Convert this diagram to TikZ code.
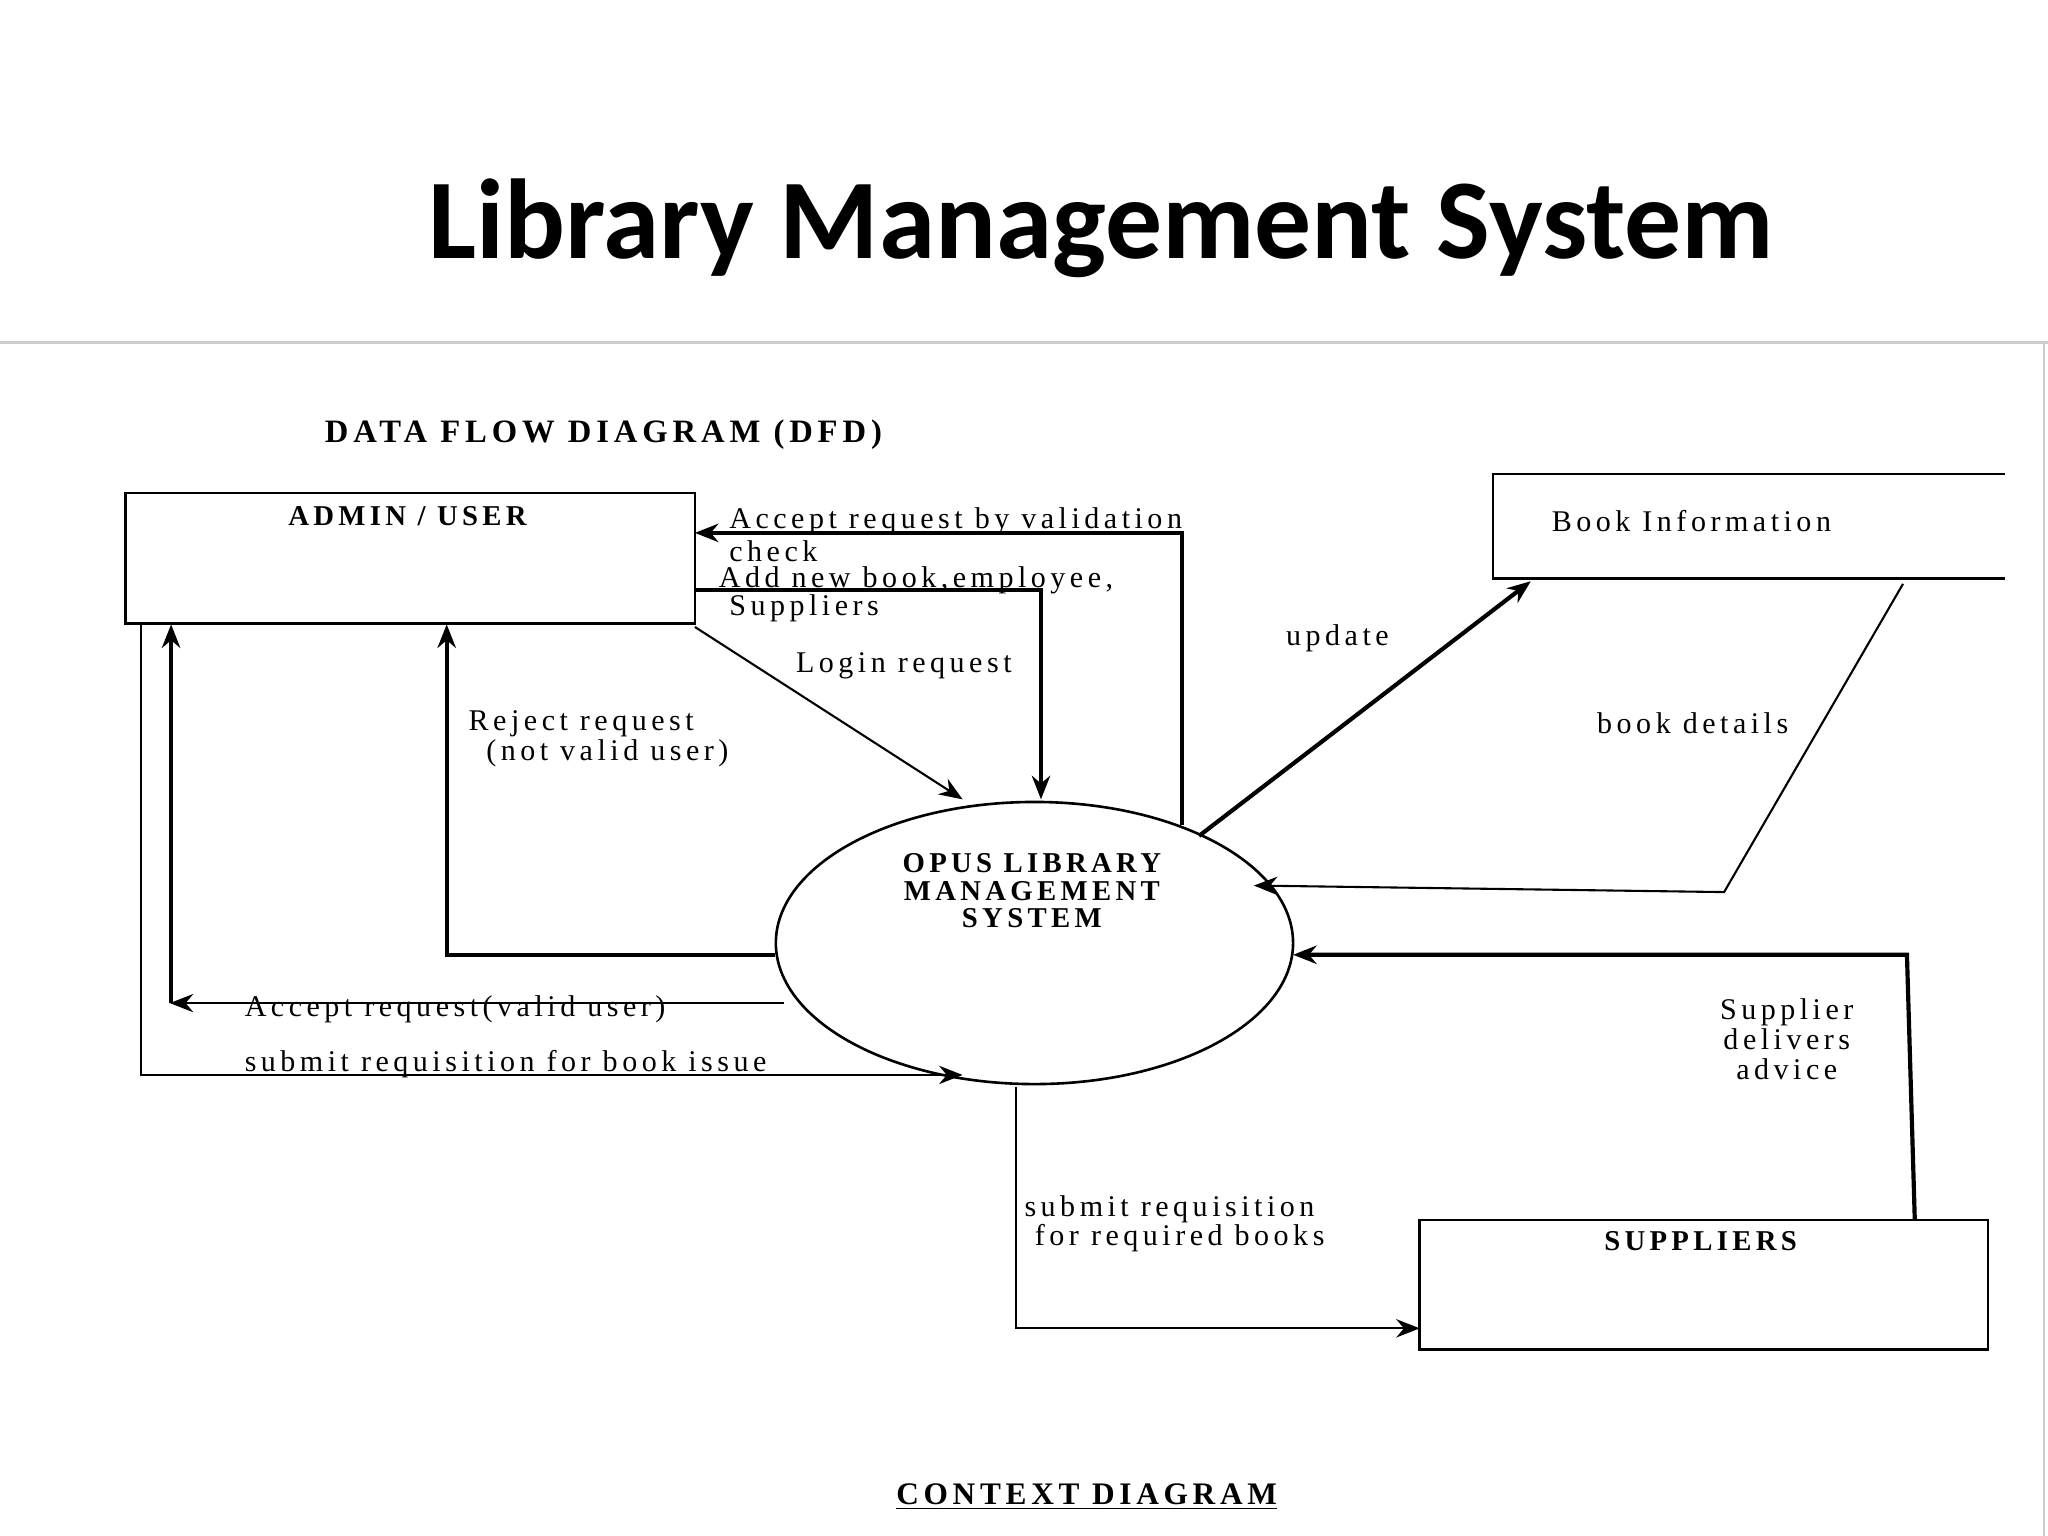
\documentclass[tikz,border=0pt]{standalone}
\usepackage{fontspec}
\setmainfont{Liberation Serif}
\newfontfamily\titlefont{Carlito}
\newfontfamily\spaced[LetterSpace=15]{Liberation Serif}
\usetikzlibrary{arrows.meta,shapes.geometric}
\begin{document}
\begin{tikzpicture}[x=0.5pt,y=-0.5pt,
  box/.style={draw,line width=1pt},
  flow/.style={draw,line width=1.6pt,-{Stealth[length=9pt,width=7pt]}},
  thin/.style={draw,line width=0.8pt,-{Stealth[length=9pt,width=7pt]}},
  lbl/.style={font=\spaced\fontsize{11.5}{12}\selectfont,inner sep=0pt,align=center},
  hd/.style={font=\spaced\fontsize{11}{12}\selectfont\bfseries,inner sep=0pt}]
\useasboundingbox (0,0) rectangle (1568,1176);
\node[font=\titlefont\fontsize{43.5}{46}\selectfont\bfseries] (title) at (843,175) {Library Management System};
\draw[gray!40,line width=1pt] (0,262) -- (1568,262) (1565,262) -- (1565,1176);
\node[hd,font=\spaced\fontsize{12.5}{13}\selectfont\bfseries] (dfd) at (462,333) {DATA FLOW DIAGRAM (DFD)};
\node[box,minimum width=218pt,minimum height=50pt] (admin) at (314,427.5) {};
\node[hd] at (312,395) {ADMIN / USER};
\draw[box] (1535,363) -- (1143,363) -- (1143,443) -- (1535,443);
\node[lbl] (binfo) at (1295,399) {Book Information};
\node[draw,ellipse,line width=1pt,minimum width=198pt,minimum height=108pt] (opus) at (792,722) {};
\node[hd,align=center,font=\spaced\fontsize{11}{10.5}\selectfont\bfseries] at (790,682) {OPUS LIBRARY\\MANAGEMENT\\SYSTEM};
\node[box,minimum width=217.5pt,minimum height=49.5pt] (sup) at (1304.5,983.5) {};
\node[hd] at (1302,950) {SUPPLIERS};
% flows
\draw[flow] (905,632) -- (905,408) -- (532,408);
\node[lbl,anchor=west] at (558,399) {Accept request by validation};
\node[lbl,anchor=west] at (558,422) {check};
\draw[flow] (532,452) -- (797,452) -- (797,612);
\node[lbl,anchor=west] at (550,444) {Add new book,employee,};
\node[lbl,anchor=west] at (558,466) {Suppliers};
\node[lbl] at (692,510) {Login request};
\draw[thin] (532,480) -- (737,612);
\draw[flow] (593,731) -- (342,731) -- (342,478);
\node[lbl] at (445,554) {Reject request};
\node[lbl] at (465,577) {(not valid user)};
\draw[thin] (600,768) -- (130,768);
\draw[flow] (131,768) -- (131,478);
\node[lbl,anchor=west] at (187,773) {Accept request(valid user)};
\draw[thin] (108,478) -- (108,823) -- (737,823);
\node[lbl,anchor=west] at (187,815) {submit requisition for book issue};
\draw[flow] (918,640) -- (1172,445);
\node[lbl] at (1024,489) {update};
\draw[thin] (1457,447) -- (1320,683) -- (960,678);
\node[lbl] at (1296,554) {book details};
\draw[flow] (1466,934) -- (1460,731) -- (990,731);
\node[lbl,font=\spaced\fontsize{11.5}{11.5}\selectfont] at (1368,796) {Supplier\\delivers\\advice};
\draw[thin] (778,832) -- (778,1017) -- (1087,1017);
\node[lbl,anchor=west] at (784,926) {submit requisition};
\node[lbl,anchor=west] at (792,948) {for required books};
\node[hd,font=\spaced\fontsize{12}{13}\selectfont\bfseries] (ctx) at (832,1146) {\underline{CONTEXT DIAGRAM}};
\end{tikzpicture}
\end{document}
